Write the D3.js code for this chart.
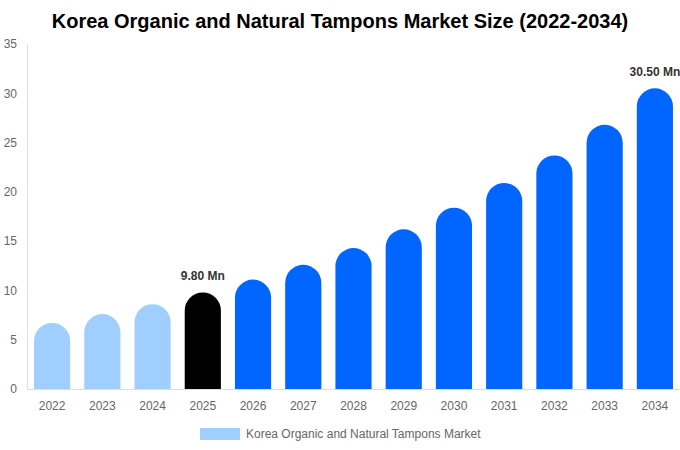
<html>
<head>
<style>
    body { margin: 0; background: #fff; }
    svg { font-family: "Liberation Sans", Arial, sans-serif; }
    .y .domain, .x .domain { stroke: #ddd; }
    .tick text { fill: #666; font-size: 12px; }
</style>
</head>
<body>
<svg width="680" height="450"></svg>
<script src="https://cdn.jsdelivr.net/npm/d3@7"></script>
<script>
    // data
    let years = ["2022", "2023", "2024", "2025", "2026", "2027", "2028", "2029", "2030", "2031", "2032", "2033", "2034"]
    let values = [6.7, 7.6, 8.6, 9.8, 11.1, 12.6, 14.3, 16.2, 18.4, 20.9, 23.7, 26.8, 30.5]
    let yTicks = [0, 5, 10, 15, 20, 25, 30, 35]
    let labelled = {"2025": "9.80 Mn", "2034": "30.50 Mn"}

    let width = 680
    let height = 450
    let margin = {top: 44, right: 0, bottom: 61, left: 27}

    let svg = d3.select("svg")

    let x = d3.scaleBand()
        .domain(years)
        .range([margin.left, width - margin.right])
        .paddingInner(0.28)
        .paddingOuter(0.14)

    let y = d3.scaleLinear()
        .domain([0, 35])
        .range([height - margin.bottom, margin.top])

    function colorOf(yr) {
        if (yr < "2025") return "#a0cfff"
        if (yr == "2025") return "#000000"
        return "#0066ff"
    }

    svg.append("text")
        .attr("x", width / 2)
        .attr("y", 28)
        .attr("text-anchor", "middle")
        .style("font-size", "20px")
        .style("font-weight", "bold")
        .style("fill", "#000")
        .text("Korea Organic and Natural Tampons Market Size (2022-2034)")

    svg.append("g")
        .attr("class", "y axis")
        .attr("transform", `translate(${margin.left}, 0)`)
        .call(d3.axisLeft(y).tickValues(yTicks).tickSize(0).tickPadding(10))

    svg.append("g")
        .attr("class", "x axis")
        .attr("transform", `translate(0, ${height - margin.bottom})`)
        .call(d3.axisBottom(x).tickSize(0).tickPadding(12))

    // bars with a round cap on top
    let data = years.map((yr, i) => ({year: yr, value: values[i]}))
    let bw = x.bandwidth()
    let r = bw / 2

    svg.append("g")
        .selectAll("path")
        .data(data)
        .join("path")
        .attr("d", d => {
            let x0 = x(d.year), x1 = x0 + bw
            let top = y(d.value), base = y(0)
            return `M${x0},${base} L${x0},${top + r} A${r},${r} 0 0 1 ${x1},${top + r} L${x1},${base} Z`
        })
        .style("fill", d => colorOf(d.year))

    svg.append("g")
        .selectAll("text")
        .data(data.filter(d => labelled[d.year]))
        .join("text")
        .attr("x", d => x(d.year) + bw / 2)
        .attr("y", d => y(d.value) - 12)
        .attr("text-anchor", "middle")
        .style("font-size", "12px")
        .style("font-weight", "bold")
        .style("fill", "#333")
        .text(d => labelled[d.year])

    // legend
    let legend = svg.append("g").attr("transform", "translate(200, 428)")
    legend.append("rect")
        .attr("width", 40)
        .attr("height", 12)
        .style("fill", "#a0cfff")
    legend.append("text")
        .attr("x", 46)
        .attr("y", 10)
        .style("font-size", "12px")
        .style("fill", "#666")
        .text("Korea Organic and Natural Tampons Market")
</script>
</body>
</html>
